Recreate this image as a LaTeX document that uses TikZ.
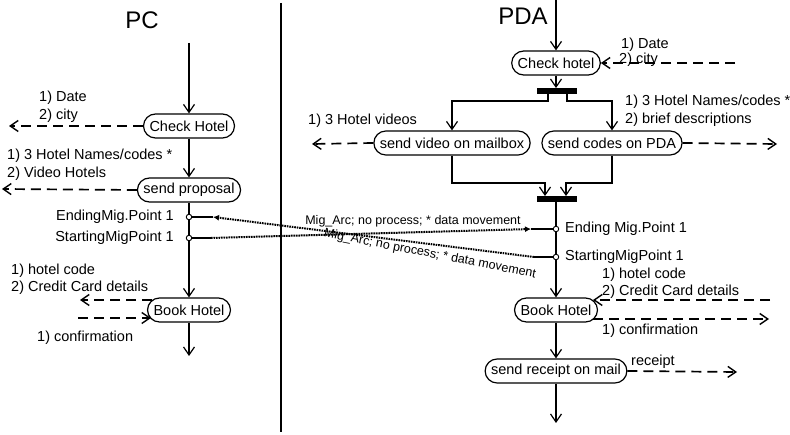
\documentclass[tikz,border=0pt]{standalone}
\usepackage{fontspec}
\setmainfont{Liberation Sans}
\usetikzlibrary{arrows.meta}
\begin{document}
\begin{tikzpicture}[x=1pt,y=-1pt,
  font=\fontsize{14.5}{16}\selectfont,
  every node/.style={inner sep=1pt},
  act/.style={draw, line width=1.2pt, rounded corners=12pt, minimum height=24pt, inner xsep=6pt, inner ysep=2pt, fill=white},
  bar/.style={fill=black, minimum width=40pt, minimum height=5.5pt, inner sep=0pt},
  port/.style={circle, draw, fill=white, minimum size=5.5pt, inner sep=0pt, line width=0.9pt},
  ln/.style={line width=1.3pt},
  flow/.style={line width=1.3pt, -{Straight Barb[length=8pt,width=11pt,line width=1.2pt]}},
  dflow/.style={line width=1.7pt, dash pattern=on 10pt off 6pt, -{Straight Barb[length=8pt,width=11pt,line width=1.4pt]}},
  mig/.style={line width=2pt, dash pattern=on 1.6pt off 0.9pt, -{Latex[length=6pt,width=6pt]}},
  lbl/.style={anchor=west},
  rlbl/.style={anchor=east},
  miglbl/.style={font=\fontsize{12.5}{14}\selectfont},
  title/.style={font=\fontsize{24}{28}\selectfont}
]
\useasboundingbox (0,0) rectangle (790,435);

% divider
\coordinate (divT) at (281,3);
\coordinate (divB) at (281,432);
\draw[line width=1.4pt] (divT) -- (divB);

% ---------- PC ----------
\node[title] (pcTitle) at (142,20) {PC};
\coordinate (pcStart) at (189,43);
\node[act] (pcCheck) at (189,126) {Check Hotel};
\node[act] (pcProp) at (189,190) {send proposal};
\node[port] (pcEnd) at (189,217) {};
\node[port] (pcStartP) at (189,238) {};
\node[act] (pcBook) at (189,310) {Book Hotel};
\coordinate (pcStop) at (189,356);

\draw[flow] (pcStart) -- (pcCheck);
\draw[flow] (pcCheck) -- (pcProp);
\draw[ln] (pcProp) -- (pcEnd);
\draw[ln] (pcEnd) -- (pcStartP);
\draw[flow] (pcStartP) -- (pcBook);
\draw[flow] (pcBook) -- (pcStop);

\coordinate (pcD1) at (9,126);
\draw[dflow] (pcCheck.west) -- (pcD1);
\node[lbl] (pcL1) at (38,98) {1) Date};
\node[lbl] (pcL2) at (38,116) {2) city};

\coordinate (pcD2) at (2,189);
\draw[dflow] (pcProp.west) -- (pcD2);
\node[lbl] (pcL3) at (6,156) {1) 3 Hotel Names/codes *};
\node[lbl] (pcL4) at (6,174) {2) Video Hotels};

\node[rlbl] (pcL5) at (175,217) {EndingMig.Point 1};
\node[rlbl] (pcL6) at (175,238) {StartingMigPoint 1};

\coordinate (pcBinS) at (152,300);
\coordinate (pcBinE) at (80,300);
\draw[dflow] (pcBinS) -- (pcBinE);
\coordinate (pcBoutS) at (78,318);
\coordinate (pcBoutE) at (151,318);
\draw[dflow] (pcBoutS) -- (pcBoutE);
\node[lbl] (pcL7) at (10,271) {1) hotel code};
\node[lbl] (pcL8) at (10,288) {2) Credit Card details};
\node[lbl] (pcL9) at (36,338) {1) confirmation};

% ---------- PDA ----------
\node[title] (pdaTitle) at (523,16) {PDA};
\coordinate (pdaStart) at (556,0);
\node[act] (pdaCheck) at (556,63) {Check hotel};
\node[bar] (fork) at (557,91) {};
\node[act] (video) at (452,143) {send video on mailbox};
\node[act] (codes) at (612,143) {send codes on PDA};
\node[bar] (join) at (557,199) {};
\node[port] (pdaEnd) at (556,229) {};
\node[port] (pdaStartP) at (556,257) {};
\node[act] (pdaBook) at (556,310) {Book Hotel};
\node[act] (receipt) at (556,371) {send receipt on mail};
\coordinate (pdaStop) at (556,423);

\draw[flow] (pdaStart) -- (pdaCheck);
\draw[flow] (pdaCheck) -- (pdaCheck.south |- fork.north);
\coordinate (fL) at (548,101);
\coordinate (fR) at (567,101);
\draw[flow] (fork.south -| fL) -- (fL) -| (video.north);
\draw[flow] (fork.south -| fR) -- (fR) -| (codes.north);
\coordinate (jL) at (545,183);
\coordinate (jR) at (566,183);
\draw[flow] (video.south) |- (jL) -- (join.north -| jL);
\draw[flow] (codes.south) |- (jR) -- (join.north -| jR);
\draw[ln] (join.south -| pdaEnd) -- (pdaEnd);
\draw[ln] (pdaEnd) -- (pdaStartP);
\draw[flow] (pdaStartP) -- (pdaBook);
\draw[flow] (pdaBook) -- (receipt);
\draw[flow] (receipt) -- (pdaStop);

\coordinate (cIn) at (735,63);
\draw[dflow] (cIn) -- (pdaCheck.east);
\node[lbl] (pdaL1) at (620,45) {1) Date};
\node[lbl] (pdaL2) at (618,60) {2) city};

\coordinate (vOut) at (312,144);
\draw[dflow] (video.west) -- (vOut);
\node[lbl] (pdaL3) at (307,121) {1) 3 Hotel videos};

\coordinate (cOut) at (777,144);
\draw[dflow] (codes.east) -- (cOut);
\node[lbl] (pdaL4) at (624,102) {1) 3 Hotel Names/codes *};
\node[lbl] (pdaL5) at (624,120) {2) brief descriptions};

\node[lbl] (pdaL6) at (564,229) {Ending Mig.Point 1};
\node[lbl] (pdaL7) at (564,257) {StartingMigPoint 1};

\coordinate (bInS) at (770,300);
\coordinate (bInE) at (593,300);
\draw[dflow] (bInS) -- (bInE);
\coordinate (bOutS) at (593,319);
\coordinate (bOutE) at (769,319);
\draw[dflow] (bOutS) -- (bOutE);
\node[lbl] (pdaL8) at (601,275) {1) hotel code};
\node[lbl] (pdaL9) at (601,292) {2) Credit Card details};
\node[lbl] (pdaL10) at (601,331) {1) confirmation};

\coordinate (rOut) at (737,372);
\draw[dflow] (receipt.east) -- (rOut);
\node[lbl] (pdaL11) at (630,362) {receipt};

% ---------- migration arcs ----------
\coordinate (aS) at (211,238);
\coordinate (aE) at (531,229);
\draw[ln] (pcStartP) -- (aS);
\draw[mig] (aS) -- (aE);
\draw[ln] (aE) -- (pdaEnd);

\coordinate (bS) at (534,257);
\coordinate (bE) at (213,217);
\draw[ln] (pdaStartP) -- (bS);
\draw[mig] (bS) -- (bE);
\draw[ln] (bE) -- (pcEnd);

\node[miglbl] (m1) at (413,221) {Mig\_Arc; no process; * data movement};
\node[miglbl, rotate=-11] (m2) at (430,254) {Mig\_Arc; no process; * data movement};
\end{tikzpicture}
\end{document}
